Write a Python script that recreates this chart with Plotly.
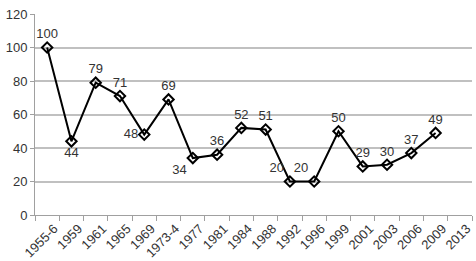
import plotly.graph_objects as go

years = ["1955-6", "1959", "1961", "1965", "1969", "1973-4", "1977", "1981", "1984",
         "1988", "1992", "1996", "1999", "2001", "2003", "2006", "2009", "2013"]
values = [100, 44, 79, 71, 48, 69, 34, 36, 52, 51, 20, 20, 50, 29, 30, 37, 49, None]
label_pos = ["top center", "bottom center", "top center", "top center", "middle left",
             "top center", "bottom left", "top center", "top center", "top center",
             "top left", "top left", "top center", "top center", "top center",
             "top center", "top center", "top center"]

texts = ["" if v is None else str(v) for v in values]

fig = go.Figure()
fig.add_trace(go.Scatter(
    x=years, y=values, mode="lines+markers+text",
    text=texts, textposition=label_pos,
    textfont=dict(family="Liberation Sans, Arial, sans-serif", size=13, color="#333333"),
    line=dict(color="black", width=2),
    marker=dict(symbol="diamond-open", size=8, color="black", line=dict(width=2, color="black")),
    cliponaxis=False,
    showlegend=False,
))

fig.update_layout(
    width=476, height=261,
    margin=dict(l=35, r=4, t=14, b=46),
    paper_bgcolor="white", plot_bgcolor="white",
    font=dict(family="Liberation Sans, Arial, sans-serif", size=13, color="#333333"),
    xaxis=dict(
        type="category", range=[-0.5, 17.5], tickangle=-45, automargin=False,
        tickson="boundaries", ticks="outside", ticklen=5, tickcolor="#a0a0a0",
        showgrid=False, showline=True, linecolor="#a0a0a0", linewidth=1,
        tickfont=dict(size=13, color="#333333"), ticklabelshift=7,
    ),
    yaxis=dict(
        range=[0, 120], dtick=20, ticks="outside", ticklen=4, tickcolor="#a0a0a0",
        showgrid=True, gridcolor="#c0c0c0", gridwidth=1.5, automargin=False,
        showline=True, linecolor="#a0a0a0", linewidth=1, zeroline=False,
        tickfont=dict(size=13, color="#333333"),
    ),
)

fig.write_html("out.html")
